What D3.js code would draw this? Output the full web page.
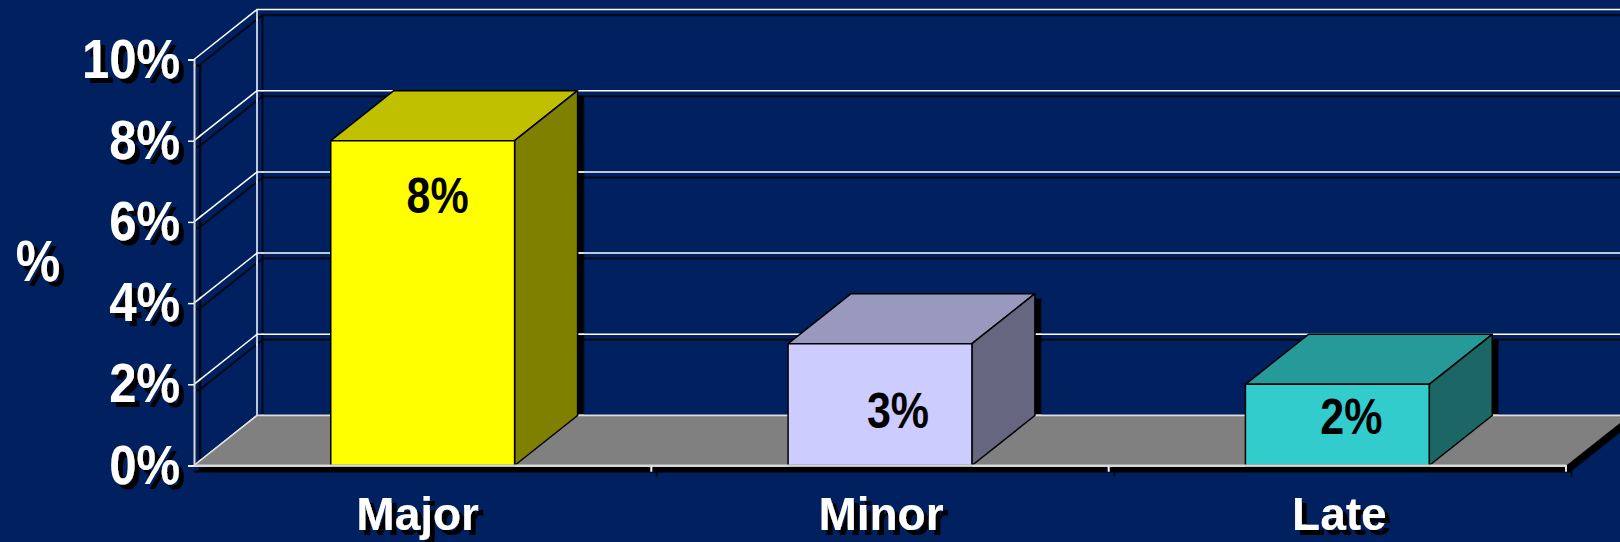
<!DOCTYPE html>
<html>
<head>
<meta charset="utf-8">
<script src="https://cdn.jsdelivr.net/npm/d3@7"></script>
<style>
html, body { margin: 0; padding: 0; background: #002060; overflow: hidden; }
text { font-family: "Liberation Sans", Arial, sans-serif; font-weight: 700; }
</style>
</head>
<body>
<div id="chart"></div>
<script>
'use strict'

// data
const categories = ['Major', 'Minor', 'Late']
const values = [8, 3, 2]
const valueLabels = ['8%', '3%', '2%']
const yTicks = [0, 2, 4, 6, 8, 10]
const frontColors = ['#ffff00', '#ccccff', '#33cccc']
const topColors = ['#c0c000', '#9999bf', '#269999']
const sideColors = ['#808000', '#666680', '#1a6666']

const svgWidth = 1620
const svgHeight = 542

// plot box of the front plane, and the 3d depth offset
const margin = { left: 194, right: 54, top: 59.5, bottom: 76.5 }
const depthX = 63
const depthY = -50
const width = svgWidth - margin.left - margin.right
const height = svgHeight - margin.top - margin.bottom

const svg = d3.select('#chart')
    .append('svg')
    .attr('width', svgWidth)
    .attr('height', svgHeight)
    .style('display', 'block')

svg.append('rect')
    .attr('width', svgWidth)
    .attr('height', svgHeight)
    .attr('fill', '#002060')

const defs = svg.append('defs')

function addShadow(id, dx, dy) {
    const f = defs.append('filter')
        .attr('id', id)
        .attr('x', '-5%').attr('y', '-5%')
        .attr('width', '110%').attr('height', '115%')
    f.append('feDropShadow')
        .attr('dx', dx).attr('dy', dy)
        .attr('stdDeviation', 0)
        .attr('flood-color', '#000')
}
addShadow('plotShadow', 5.5, 5.5)
addShadow('textShadow', 5, 5)

const root = svg.append('g')
    .attr('transform', `translate(${margin.left},${margin.top})`)

////////////////////////////////////
//////////// Scales ////////////////
////////////////////////////////////

const x = d3.scaleBand()
    .domain(categories)
    .range([0, width])
    .paddingInner(0)
    .paddingOuter(0)

const y = d3.scaleLinear()
    .domain([0, 10])
    .range([height, 0])

const barWidth = x.bandwidth() * 0.402
const barLeft = d => x(d) + (x.bandwidth() - barWidth) / 2

////////////////////////////////////
//////////// Walls, floor //////////
////////////////////////////////////

const plot = root.append('g').attr('filter', 'url(#plotShadow)')

// back wall grid and the side wall diagonals
plot.selectAll('.grid')
    .data(yTicks)
    .join('path')
    .attr('class', 'grid')
    .attr('fill', 'none')
    .attr('stroke', '#ffffff')
    .attr('stroke-width', 1.5)
    .attr('d', d => `M0,${y(d)}L${depthX},${y(d) + depthY}L${width + depthX},${y(d) + depthY}`)

plot.append('line')
    .attr('x1', depthX).attr('x2', depthX)
    .attr('y1', y(10) + depthY).attr('y2', y(0) + depthY)
    .attr('stroke', '#ffffff')
    .attr('stroke-width', 1.5)

plot.append('path')
    .attr('d', `M0,${y(0)}L${depthX},${y(0) + depthY}L${width + depthX},${y(0) + depthY}L${width},${y(0)}Z`)
    .attr('fill', '#808080')

plot.append('path')
    .attr('d', `M0,${y(0)}L${depthX},${y(0) + depthY}L${width + depthX},${y(0) + depthY}`)
    .attr('fill', 'none')
    .attr('stroke', '#e0e0e0')
    .attr('stroke-width', 1.5)

// axes
const yAxis = d3.axisLeft(y)
    .tickValues(yTicks)
    .tickSize(6)
    .tickFormat('')

const xAxis = d3.axisBottom(x)
    .tickValues([])
    .tickSizeOuter(0)

plot.append('g')
    .attr('class', 'y-axis')
    .call(yAxis)

plot.append('g')
    .attr('class', 'x-axis')
    .attr('transform', `translate(0,${height})`)
    .call(xAxis)

plot.selectAll('.domain')
    .attr('stroke', '#d8d8d8')
    .attr('stroke-width', 2)
plot.selectAll('.y-axis line')
    .attr('stroke', '#ffffff')
    .attr('stroke-width', 1.5)

// band edges on the front axis
plot.selectAll('.band-tick')
    .data(categories.slice(1).concat(['end']))
    .join('line')
    .attr('class', 'band-tick')
    .attr('x1', d => d === 'end' ? width : x(d))
    .attr('x2', d => d === 'end' ? width : x(d))
    .attr('y1', height)
    .attr('y2', height + 6)
    .attr('stroke', '#ffffff')
    .attr('stroke-width', 1.5)

////////////////////////////////////
//////////// Bars //////////////////
////////////////////////////////////

const bars = plot.selectAll('.bar')
    .data(categories)
    .join('g')
    .attr('class', 'bar')
    .attr('stroke', '#000000')
    .attr('stroke-width', 1.5)
    .attr('stroke-linejoin', 'round')

bars.append('path')
    .attr('fill', (d, i) => topColors[i])
    .attr('d', (d, i) => {
        const l = barLeft(d), t = y(values[i])
        return `M${l},${t}L${l + depthX},${t + depthY}L${l + barWidth + depthX},${t + depthY}L${l + barWidth},${t}Z`
    })

bars.append('path')
    .attr('fill', (d, i) => sideColors[i])
    .attr('d', (d, i) => {
        const r = barLeft(d) + barWidth, t = y(values[i])
        return `M${r},${t}L${r + depthX},${t + depthY}L${r + depthX},${y(0) + depthY}L${r},${y(0)}Z`
    })

bars.append('rect')
    .attr('fill', (d, i) => frontColors[i])
    .attr('x', d => barLeft(d))
    .attr('y', (d, i) => y(values[i]))
    .attr('width', barWidth)
    .attr('height', (d, i) => y(0) - y(values[i]))

// front axis line runs over the bar feet
root.append('line')
    .attr('x1', 0).attr('x2', width)
    .attr('y1', height).attr('y2', height)
    .attr('stroke', '#d8d8d8')
    .attr('stroke-width', 2)

////////////////////////////////////
//////////// Text //////////////////
////////////////////////////////////

// the slide text is a bit taller than it is wide
const stretch = (px, py) => `translate(${px},${py}) scale(1,1.15)`

const labelOffsets = [
    { dx: 15, dy: 72 },
    { dx: 18, dy: 84 },
    { dx: 14, dy: 50 }
]

root.selectAll('.value-label')
    .data(categories)
    .join('text')
    .attr('class', 'value-label')
    .attr('transform', (d, i) => stretch(x(d) + x.bandwidth() / 2 + labelOffsets[i].dx, y(values[i]) + labelOffsets[i].dy))
    .attr('text-anchor', 'middle')
    .attr('font-size', 43)
    .attr('fill', '#000000')
    .text((d, i) => valueLabels[i])

const tickText = root.append('g').attr('filter', 'url(#textShadow)')

tickText.selectAll('.y-label')
    .data(yTicks)
    .join('text')
    .attr('class', 'y-label')
    .attr('transform', d => stretch(-14, y(d) + 18))
    .attr('text-anchor', 'end')
    .attr('font-size', 49)
    .attr('fill', '#ffffff')
    .text(d => `${d}%`)

const xLabelOffsets = [-5, 1, 2]

tickText.selectAll('.x-label')
    .data(categories)
    .join('text')
    .attr('class', 'x-label')
    .attr('x', (d, i) => x(d) + x.bandwidth() / 2 + xLabelOffsets[i])
    .attr('y', height + 64)
    .attr('text-anchor', 'middle')
    .attr('font-size', 46)
    .attr('fill', '#ffffff')
    .text(d => d)

tickText.append('text')
    .attr('transform', stretch(-156, 222))
    .attr('text-anchor', 'middle')
    .attr('font-size', 50)
    .attr('fill', '#ffffff')
    .text('%')
</script>
</body>
</html>
